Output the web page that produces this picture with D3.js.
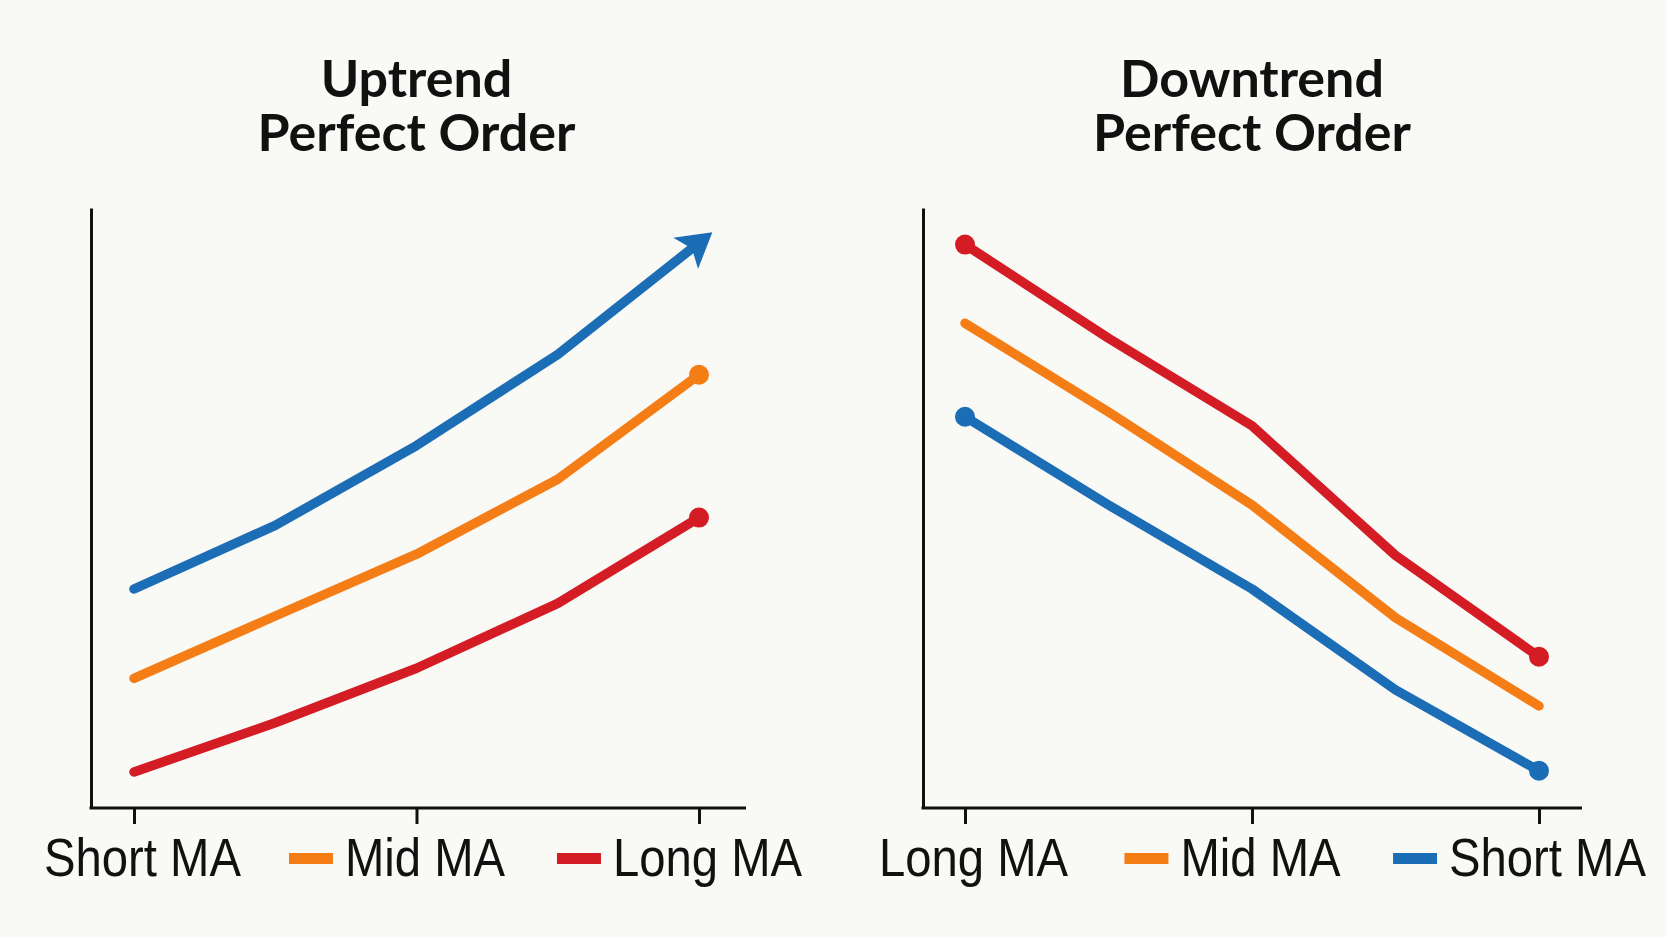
<!DOCTYPE html>
<html>
<head>
<meta charset="utf-8">
<script src="https://cdn.jsdelivr.net/npm/d3@7"></script>
<style>
  body { margin: 0; background: #f9f9f6; }
  svg { display: block; }
</style>
</head>
<body>
<svg></svg>
<script>
var width = 1666;
var height = 937;

// data (0-100 arbitrary price scale)
var steps = [0, 1, 2, 3, 4];
var tickSteps = [0, 2, 4];
var upShort = [36.5, 47.1, 60.4, 75.6, 94.2];
var upMid = [21.6, 32.0, 42.3, 54.8, 72.2];
var upLong = [6.0, 14.2, 23.3, 34.1, 48.4];
var downLong = [93.9, 78.3, 63.7, 42.1, 25.2];
var downMid = [80.8, 66.0, 50.5, 31.7, 17.0];
var downShort = [65.2, 50.5, 36.5, 19.7, 6.2];
var upLabels = ["Short MA", "Mid MA", "Long MA"];
var downLabels = ["Long MA", "Mid MA", "Short MA"];
var upTitle = ["Uptrend", "Perfect Order"];
var downTitle = ["Downtrend", "Perfect Order"];

var blue = "#1b6db5";
var orange = "#f57d16";
var red = "#d41c24";

var squeeze = 0.875; // labels are set in a condensed face

var svg = d3.select("svg")
    .attr("width", width)
    .attr("height", height);

svg.append("rect")
    .attr("width", width)
    .attr("height", height)
    .attr("fill", "#f9f9f6");

var defs = svg.append("defs");
defs.append("marker")
    .attr("id", "arrow")
    .attr("markerUnits", "userSpaceOnUse")
    .attr("viewBox", "-25 -25 50 50")
    .attr("markerWidth", 50)
    .attr("markerHeight", 50)
    .attr("refX", 0)
    .attr("refY", 0)
    .attr("orient", "auto")
  .append("path")
    .attr("d", "M17,0 L-17,-20 L-9,0 L-17,20 Z")
    .attr("fill", blue);

var y = d3.scaleLinear()
    .domain([0, 100])
    .range([808, 208]);

var panels = [
  {
    title: upTitle, labels: upLabels,
    axisLeft: 91, axisRight: 746, range: [134, 699],
    swatches: [null, orange, red],
    series: [
      { values: upShort, color: blue, dots: [], arrow: true },
      { values: upMid, color: orange, dots: [4] },
      { values: upLong, color: red, dots: [4] }
    ]
  },
  {
    title: downTitle, labels: downLabels,
    axisLeft: 923, axisRight: 1582, range: [965, 1539],
    swatches: [null, orange, blue],
    series: [
      { values: downLong, color: red, dots: [0, 4] },
      { values: downMid, color: orange, dots: [] },
      { values: downShort, color: blue, dots: [0, 4] }
    ]
  }
];

panels.forEach(function(p) {
  var x = d3.scaleLinear()
      .domain([0, 4])
      .range(p.range);

  var g = svg.append("g");

  // title, one text per line
  g.selectAll(null)
    .data(p.title)
    .enter().append("text")
      .attr("text-anchor", "middle")
      .attr("x", x(2))
      .attr("y", (d, i) => 97 + i * 54)
      .style("font-family", "Lato, 'Open Sans', sans-serif")
      .style("font-weight", "700")
      .style("font-size", "52px")
      .attr("fill", "#111")
      .text(d => d);

  // y axis (line only)
  g.append("g")
      .attr("transform", "translate(" + p.axisLeft + ",0)")
      .call(d3.axisLeft(y).ticks(0).tickSizeOuter(0))
    .select(".domain")
      .attr("stroke", "#111")
      .attr("stroke-width", 3);

  // x axis line
  g.append("line")
      .attr("x1", p.axisLeft - 1.5)
      .attr("x2", p.axisRight)
      .attr("y1", y(0))
      .attr("y2", y(0))
      .attr("stroke", "#111")
      .attr("stroke-width", 3);

  // x ticks + labels
  var xAxis = g.append("g")
      .attr("transform", "translate(0," + y(0) + ")")
      .call(d3.axisBottom(x)
              .tickValues(tickSteps)
              .tickSize(16)
              .tickSizeOuter(0)
              .tickFormat((d, i) => p.labels[i]));
  xAxis.select(".domain").remove();
  xAxis.selectAll(".tick line")
      .attr("stroke", "#111")
      .attr("stroke-width", 3);
  xAxis.selectAll(".tick text")
      .attr("x", 8 / squeeze)
      .attr("y", 68)
      .attr("dy", null)
      .attr("transform", "scale(" + squeeze + ",1)")
      .attr("fill", "#111")
      .style("font-family", "'Liberation Sans', Arial, sans-serif")
      .style("font-size", "54px");

  xAxis.selectAll(".tick").each(function(d, i) {
    if (!p.swatches[i]) return;
    var t = d3.select(this).select("text");
    var w = t.node().getComputedTextLength() * squeeze;
    d3.select(this).append("rect")
        .attr("x", 8 - w / 2 - 12 - 44)
        .attr("y", 45)
        .attr("width", 44)
        .attr("height", 11)
        .attr("fill", p.swatches[i]);
  });

  var line = d3.line()
      .x((d, i) => x(steps[i]))
      .y(d => y(d));

  p.series.forEach(function(s) {
    g.append("path")
        .datum(s.values)
        .attr("d", line)
        .attr("fill", "none")
        .attr("stroke", s.color)
        .attr("stroke-width", 9.5)
        .attr("stroke-linecap", "round")
        .attr("stroke-linejoin", "round")
        .attr("marker-end", s.arrow ? "url(#arrow)" : null);

    g.selectAll(null)
      .data(s.dots)
      .enter().append("circle")
        .attr("cx", d => x(steps[d]))
        .attr("cy", d => y(s.values[d]))
        .attr("r", 10)
        .attr("fill", s.color);
  });
});
</script>
</body>
</html>
